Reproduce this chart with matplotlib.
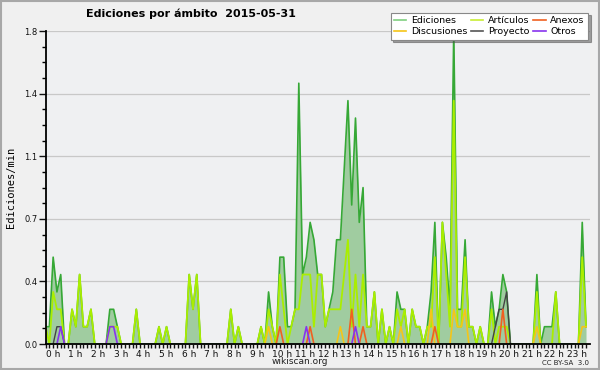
import numpy as np
import matplotlib
matplotlib.use("Agg")
import matplotlib.pyplot as plt
from matplotlib.lines import Line2D
from matplotlib.patches import Rectangle
from matplotlib.transforms import ScaledTranslation

# edits per minute, one value per 10-minute slot (6 per hour)
ediciones = [
    0.1, 0.1, 0.5, 0.3, 0.4, 0,      # 0 h
    0, 0.2, 0.1, 0.4, 0.1, 0.1,      # 1 h
    0.2, 0, 0, 0, 0, 0.2,            # 2 h
    0.2, 0.1, 0, 0, 0, 0,            # 3 h
    0.2, 0, 0, 0, 0, 0,              # 4 h
    0.1, 0, 0.1, 0, 0, 0,            # 5 h
    0, 0, 0.4, 0.2, 0.4, 0,          # 6 h
    0, 0, 0, 0, 0, 0,                # 7 h
    0, 0.2, 0, 0.1, 0, 0,            # 8 h
    0, 0, 0, 0.1, 0, 0.3,            # 9 h
    0.1, 0, 0.5, 0.5, 0.1, 0.1,      # 10 h
    0.2, 1.5, 0.4, 0.5, 0.7, 0.6,    # 11 h
    0.4, 0.4, 0.1, 0.2, 0.3, 0.6,    # 12 h
    0.6, 1.0, 1.4, 0.8, 1.3, 0.7,    # 13 h
    0.9, 0.1, 0.1, 0.3, 0, 0.2,      # 14 h
    0, 0.1, 0, 0.3, 0.2, 0.2,        # 15 h
    0, 0.2, 0.1, 0.1, 0, 0.1,        # 16 h
    0.3, 0.7, 0, 0.7, 0.5, 0.2,      # 17 h
    1.8, 0.2, 0.2, 0.6, 0.1, 0.1,    # 18 h
    0, 0.1, 0, 0, 0.3, 0.1,          # 19 h
    0.2, 0.4, 0.3, 0, 0, 0,          # 20 h
    0, 0, 0, 0, 0.4, 0,              # 21 h
    0.1, 0.1, 0.1, 0.3, 0, 0,        # 22 h
    0, 0, 0, 0, 0.7, 0.1,            # 23 h
]

articulos = [
    0.1, 0, 0.3, 0.2, 0.2, 0,
    0, 0.2, 0.1, 0.4, 0.1, 0.1,
    0.2, 0, 0, 0, 0, 0.1,
    0.1, 0.1, 0, 0, 0, 0,
    0.2, 0, 0, 0, 0, 0,
    0.1, 0, 0.1, 0, 0, 0,
    0, 0, 0.4, 0.2, 0.4, 0,
    0, 0, 0, 0, 0, 0,
    0, 0.2, 0, 0.1, 0, 0,
    0, 0, 0, 0.1, 0, 0.2,
    0.1, 0, 0.4, 0.2, 0, 0.1,
    0.2, 0.2, 0.4, 0.4, 0.4, 0.1,
    0.4, 0.4, 0.1, 0.2, 0.2, 0.2,
    0.2, 0.4, 0.6, 0.1, 0.4, 0.1,
    0.4, 0.1, 0.1, 0.3, 0, 0.2,
    0, 0.1, 0, 0.2, 0.1, 0.2,
    0, 0.2, 0.1, 0.1, 0, 0.1,
    0.1, 0.5, 0, 0.7, 0.4, 0.1,
    1.4, 0.1, 0.1, 0.5, 0.1, 0.1,
    0, 0.1, 0, 0, 0.2, 0,
    0.1, 0.1, 0.1, 0, 0, 0,
    0, 0, 0, 0, 0.3, 0,
    0, 0, 0, 0.3, 0, 0,
    0, 0, 0, 0, 0.5, 0.1,
]

# sparse series: slot index -> value
disc_slots = [59, 78, 94, 102, 108, 109, 110, 111, 130, 142, 143]
disc_vals = [0.1, 0.1, 0.1, 0.2, 0.2, 0.1, 0.1, 0.2, 0.1, 0.1, 0.1]
proy_slots = [3, 4, 119, 120, 121, 122]
proy_vals = [0.1, 0.1, 0.1, 0.2, 0.2, 0.3]
anex_slots = [62, 70, 81, 84, 103, 121]
anex_vals = [0.1, 0.1, 0.2, 0.1, 0.1, 0.2]
otros_slots = [4, 17, 18, 69, 82]
otros_vals = [0.1, 0.1, 0.1, 0.1, 0.1]

hours = [f"{h} h" for h in range(24)]
y_ticks = [0, 0.36, 0.72, 1.08, 1.44, 1.8]

N = 144
x = np.arange(N)


def full(slots, vals):
    arr = np.zeros(N)
    arr[slots] = vals
    return arr


def hide_flat_zero(arr):
    # drop zero runs so lines don't paint along the axis
    arr = np.asarray(arr, dtype=float)
    out = arr.copy()
    for i in range(N):
        left = arr[i - 1] if i > 0 else 0
        right = arr[i + 1] if i < N - 1 else 0
        if arr[i] == 0 and left == 0 and right == 0:
            out[i] = np.nan
    return out


fig = plt.figure(figsize=(6, 3.7), dpi=100, facecolor="#f0f0f0")
fig.patches.append(Rectangle((0.001, 0.002), 0.997, 0.995, transform=fig.transFigure,
                             fill=False, edgecolor="#a8a8a8", linewidth=1.5))
ax = fig.add_axes([0.076, 0.070, 0.907, 0.846], facecolor="#eff0f2")

ed = np.array(ediciones, dtype=float)
ax.fill_between(x, 0, ed, color="#a0cca0", linewidth=0, zorder=1)
ax.plot(x, ed, color="#36a836", linewidth=1.2, zorder=2)
ax.plot(x, hide_flat_zero(articulos), color="#aaee00", linewidth=1.3, zorder=2.1)
ax.plot(x, hide_flat_zero(full(disc_slots, disc_vals)), color="#f5c518", linewidth=1.2, zorder=2.2)
ax.plot(x, hide_flat_zero(full(proy_slots, proy_vals)), color="#444444", linewidth=1.0, zorder=2.3)
ax.plot(x, hide_flat_zero(full(anex_slots, anex_vals)), color="#f06020", linewidth=1.2, zorder=2.4)
ax.plot(x, hide_flat_zero(full(otros_slots, otros_vals)), color="#8833ee", linewidth=1.2, zorder=2.5)

ax.set_xlim(0, N)
ax.set_ylim(0, 1.8)

ax.set_yticks(y_ticks)
ax.set_yticklabels([f"{v:.1f}" for v in y_ticks])
ax.set_yticks(np.arange(0, 1.81, 0.09), minor=True)
ax.yaxis.grid(True, color="#c8c8c8", linewidth=0.9)
ax.set_axisbelow(True)

ax.set_xticks(np.arange(0, 24) * 6)
ax.set_xticklabels(hours)
ax.set_xticks(x, minor=True)
for lbl in ax.get_xticklabels():
    lbl.set_ha("left")
    lbl.set_transform(lbl.get_transform() + ScaledTranslation(-3 / 72, 0, fig.dpi_scale_trans))

ax.tick_params(axis="x", which="both", direction="out", length=3, width=1, pad=1,
               labelsize=6.5, colors="#111111")
ax.tick_params(axis="y", which="major", direction="out", length=5, width=1, pad=1,
               labelsize=6, colors="#111111")
ax.tick_params(axis="y", which="minor", direction="out", length=3, width=1)

for side in ("top", "right"):
    ax.spines[side].set_visible(False)
for side in ("left", "bottom"):
    ax.spines[side].set_linewidth(1.3)
    ax.spines[side].set_color("#000000")

ax.set_ylabel("Ediciones/min", family="DejaVu Sans Mono", fontsize=7.5, labelpad=6)

fig.text(0.143, 0.963, "Ediciones por ámbito  2015-05-31", fontsize=8,
         fontweight="bold", va="center", ha="left")
fig.text(0.5, 0.022, "wikiscan.org", fontsize=6.5, ha="center", va="center", color="#222222")
fig.text(0.982, 0.020, "CC BY-SA  3.0", fontsize=5, ha="right", va="center", color="#222222")

handles = [
    Line2D([], [], color="#7fcf7f", lw=1.2),
    Line2D([], [], color="#f5c518", lw=1.2),
    Line2D([], [], color="#c8ee33", lw=1.2),
    Line2D([], [], color="#555555", lw=1.2),
    Line2D([], [], color="#f06020", lw=1.2),
    Line2D([], [], color="#8833ee", lw=1.2),
]
names = ["Ediciones", "Discusiones", "Artículos", "Proyecto", "Anexos", "Otros"]
leg = fig.legend(handles, names, ncol=3, loc="upper right", bbox_to_anchor=(0.98, 0.966),
                 fontsize=6.8, frameon=True, fancybox=False, shadow=True,
                 handlelength=1.3, handletextpad=0.5, columnspacing=0.4,
                 labelspacing=0.25, borderpad=0.35, borderaxespad=0)
leg.get_frame().set_edgecolor("#888888")
leg.get_frame().set_linewidth(0.8)

fig.savefig("out.png", dpi=100, facecolor=fig.get_facecolor())
